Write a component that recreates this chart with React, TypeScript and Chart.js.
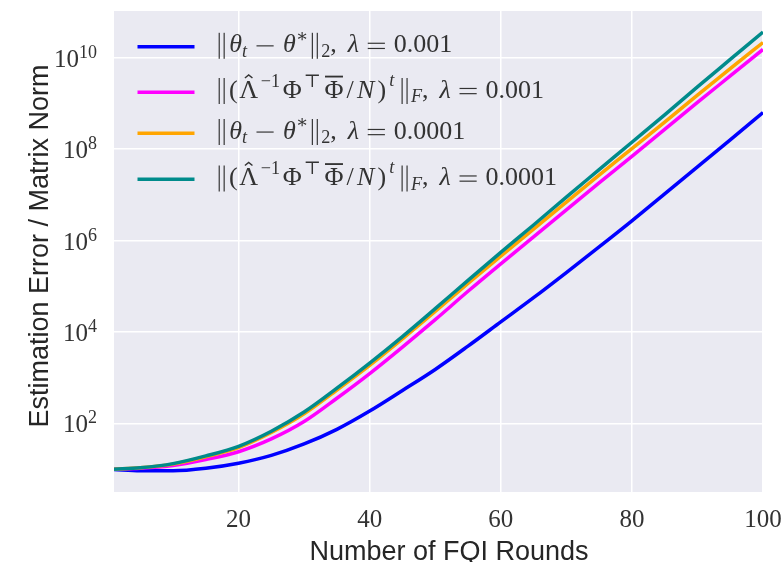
import React, { useEffect, useRef } from 'react';
import { Chart, registerables } from 'chart.js';

Chart.register(...registerables);

// FQI rounds (x) at which values were read
const rounds = [1, 5, 10, 15, 20, 25, 30, 35, 40, 45, 50, 55, 60, 65, 70, 75, 80, 85, 90, 95, 100];
// log10 of the plotted values
const thetaErrLam1e3Log10 = [0.99, 0.965, 0.965, 1.02, 1.13, 1.3, 1.55, 1.87, 2.27, 2.72, 3.18, 3.69, 4.22, 4.75, 5.3, 5.86, 6.43, 7.02, 7.61, 8.2, 8.8];
const matNormLam1e3Log10 = [1.0, 1.02, 1.08, 1.21, 1.38, 1.66, 2.04, 2.55, 3.09, 3.67, 4.27, 4.89, 5.49, 6.08, 6.67, 7.26, 7.84, 8.43, 9.02, 9.6, 10.18];
const thetaErrLam1e4Log10 = [1.0, 1.03, 1.11, 1.27, 1.47, 1.8, 2.21, 2.73, 3.27, 3.85, 4.45, 5.06, 5.66, 6.25, 6.84, 7.43, 8.01, 8.59, 9.18, 9.76, 10.33];
const matNormLam1e4Log10 = [1.0, 1.03, 1.12, 1.29, 1.5, 1.83, 2.25, 2.77, 3.32, 3.9, 4.51, 5.13, 5.74, 6.34, 6.95, 7.55, 8.15, 8.75, 9.36, 9.96, 10.56];

const seriesColors = ['#0000ff', '#ff00ff', '#ffa500', '#008b8b'];
const legendLambdas = ['0.001', '0.001', '0.0001', '0.0001'];
const legendKinds = ['theta', 'matrix', 'theta', 'matrix'];

const xTickValues = [20, 40, 60, 80, 100];
const yTickExponents = [2, 4, 6, 8, 10];
const xTitle = 'Number of FQI Rounds';
const yTitle = 'Estimation Error / Matrix Norm';

const SERIF = "'Liberation Serif','DejaVu Serif',serif";
const SANS = "'Liberation Sans','DejaVu Sans',sans-serif";
const TEXT = '#262626';
const SERIF_TEXT = '#333333';

type Run = { t: string; it?: boolean; s?: number; dy?: number; ov?: boolean; hat?: boolean; gap?: number; bar?: boolean; minus?: boolean; eq?: boolean };

function drawRuns(ctx: CanvasRenderingContext2D, runs: Run[], x: number, y: number, base: number) {
  let cx = x;
  for (const r of runs) {
    const size = base * (r.s ?? 1);
    ctx.font = `${r.it ? 'italic ' : ''}${size}px ${SERIF}`;
    cx += (r.gap ?? 0) * base;
    const by = y - (r.dy ?? 0) * base;
    const lw = Math.max(1, 0.045 * size);
    if (r.bar) {
      ctx.fillRect(cx + 0.14 * size, by - 0.75 * size, lw, size);
      ctx.fillRect(cx + 0.33 * size, by - 0.75 * size, lw, size);
      cx += 0.5 * size;
      continue;
    }
    if (r.minus) {
      ctx.fillRect(cx + 0.06 * size, by - 0.27 * size, 0.66 * size, lw);
      cx += 0.78 * size;
      continue;
    }
    if (r.eq) {
      ctx.fillRect(cx + 0.06 * size, by - 0.37 * size, 0.66 * size, lw);
      ctx.fillRect(cx + 0.06 * size, by - 0.17 * size, 0.66 * size, lw);
      cx += 0.78 * size;
      continue;
    }
    const w = ctx.measureText(r.t).width;
    ctx.fillText(r.t, cx, by);
    if (r.ov) {
      ctx.fillRect(cx + 0.02 * size, by - 0.84 * size, w - 0.04 * size, 0.07 * size);
    }
    if (r.hat) {
      ctx.save();
      ctx.lineWidth = 0.055 * size;
      ctx.strokeStyle = ctx.fillStyle as string;
      ctx.beginPath();
      ctx.moveTo(cx + w * 0.3, by - 0.75 * size);
      ctx.lineTo(cx + w * 0.5, by - 0.87 * size);
      ctx.lineTo(cx + w * 0.7, by - 0.75 * size);
      ctx.stroke();
      ctx.restore();
    }
    cx += w;
  }
}

function legendRuns(kind: string, lam: string): Run[] {
  const tail: Run[] = [
    { t: ',' },
    { t: 'λ', it: true, gap: 0.42 },
    { t: '', eq: true, gap: 0.28 },
    { t: lam, gap: 0.28 },
  ];
  if (kind === 'theta') {
    return [
      { t: '', bar: true },
      { t: 'θ', it: true, gap: 0.05 },
      { t: 't', it: true, s: 0.7, dy: -0.18 },
      { t: '', minus: true, gap: 0.3 },
      { t: 'θ', it: true, gap: 0.3 },
      { t: '∗', s: 0.7, dy: 0.4 },
      { t: '', bar: true },
      { t: '2', s: 0.7, dy: -0.18 },
      ...tail,
    ];
  }
  return [
    { t: '', bar: true },
    { t: '(', gap: 0.04 },
    { t: 'Λ', hat: true, gap: 0.06 },
    { t: '−1', s: 0.7, dy: 0.42, gap: 0.1 },
    { t: 'Φ', gap: 0.1 },
    { t: '⊤', s: 0.7, dy: 0.42, gap: 0.08 },
    { t: 'Φ', ov: true, gap: 0.14 },
    { t: '/', gap: 0.12 },
    { t: 'N', it: true, gap: 0.12 },
    { t: ')', gap: 0.12 },
    { t: 't', it: true, s: 0.7, dy: 0.45, gap: 0.12 },
    { t: '', bar: true, gap: 0.14 },
    { t: 'F', it: true, s: 0.7, dy: -0.18 },
    ...tail,
  ];
}

const legendHandleY = [46.7, 92.3, 133.3, 179.3];
const legendBaseY = [52.3, 97.5, 138.5, 185];

const decorPlugin = {
  id: 'decor',
  beforeDraw(chart: any) {
    const { ctx, chartArea: a } = chart;
    ctx.save();
    ctx.fillStyle = '#eaeaf2';
    ctx.fillRect(a.left, a.top, a.right - a.left, a.bottom - a.top);
    ctx.restore();
  },
  afterDraw(chart: any) {
    const { ctx } = chart;
    const xs = chart.scales.x;
    const ys = chart.scales.y;
    ctx.save();
    ctx.fillStyle = SERIF_TEXT;
    // x tick labels
    ctx.font = `25px ${SERIF}`;
    ctx.textAlign = 'center';
    ctx.textBaseline = 'alphabetic';
    for (const t of xs.ticks) {
      ctx.fillText(String(t.value), xs.getPixelForValue(t.value), 527);
    }
    // y tick labels (10^n)
    ctx.textAlign = 'left';
    for (const t of ys.ticks) {
      const e = Math.round(Math.log10(t.value));
      const py = ys.getPixelForValue(t.value);
      ctx.font = `18px ${SERIF}`;
      const ew = ctx.measureText(String(e)).width;
      ctx.font = `25px ${SERIF}`;
      const bw = ctx.measureText('10').width;
      const right = 97;
      const bx = right - ew - bw;
      ctx.fillText('10', bx, py + 9);
      ctx.font = `18px ${SERIF}`;
      ctx.fillText(String(e), bx + bw, py);
    }
    // axis titles
    ctx.fillStyle = TEXT;
    ctx.font = `27px ${SANS}`;
    ctx.textAlign = 'center';
    ctx.fillText(xTitle, 449, 560);
    ctx.save();
    ctx.translate(48, 246);
    ctx.rotate(-Math.PI / 2);
    ctx.fillText(yTitle, 0, 0);
    ctx.restore();
    // legend
    ctx.textAlign = 'left';
    for (let i = 0; i < 4; i++) {
      ctx.strokeStyle = seriesColors[i];
      ctx.lineWidth = 3.5;
      ctx.beginPath();
      ctx.moveTo(137.5, legendHandleY[i]);
      ctx.lineTo(194.5, legendHandleY[i]);
      ctx.stroke();
      ctx.fillStyle = SERIF_TEXT;
      drawRuns(ctx, legendRuns(legendKinds[i], legendLambdas[i]), 215, legendBaseY[i], 26);
    }
    ctx.restore();
  },
};

export default function App() {
  const ref = useRef<HTMLCanvasElement>(null);
  useEffect(() => {
    document.body.style.margin = '0';
    const logs = [thetaErrLam1e3Log10, matNormLam1e3Log10, thetaErrLam1e4Log10, matNormLam1e4Log10];
    const datasets = logs.map((arr, i) => ({
      label: `${legendKinds[i]} λ=${legendLambdas[i]}`,
      data: rounds.map((x, j) => ({ x, y: Math.pow(10, arr[j]) })),
      borderColor: seriesColors[i],
      backgroundColor: seriesColors[i],
      borderWidth: 3.5,
      pointRadius: 0,
      cubicInterpolationMode: 'monotone' as const,
      order: 4 - i,
    }));
    const chart = new Chart(ref.current!, {
      type: 'line',
      data: { datasets },
      plugins: [decorPlugin],
      options: {
        animation: false,
        responsive: false,
        devicePixelRatio: 1,
        layout: { padding: { left: 0, top: 11, right: 20, bottom: 0 } },
        plugins: { legend: { display: false }, tooltip: { enabled: false } },
        scales: {
          x: {
            type: 'linear',
            min: 1,
            max: 100,
            afterBuildTicks: (s: any) => { s.ticks = xTickValues.map((v) => ({ value: v })); },
            afterFit: (s: any) => { s.height = 70; },
            ticks: { display: false },
            grid: { color: '#ffffff', lineWidth: 1.5, drawTicks: false },
            border: { display: false },
          },
          y: {
            type: 'logarithmic',
            min: Math.pow(10, 0.5),
            max: Math.pow(10, 11.02),
            afterBuildTicks: (s: any) => { s.ticks = yTickExponents.map((e) => ({ value: Math.pow(10, e) })); },
            afterFit: (s: any) => { s.width = 114; },
            ticks: { display: false },
            grid: { color: '#ffffff', lineWidth: 1.5, drawTicks: false },
            border: { display: false },
          },
        },
      },
    });
    return () => chart.destroy();
  }, []);
  return <canvas ref={ref} width={783} height={562} style={{ display: 'block' }} />;
}
